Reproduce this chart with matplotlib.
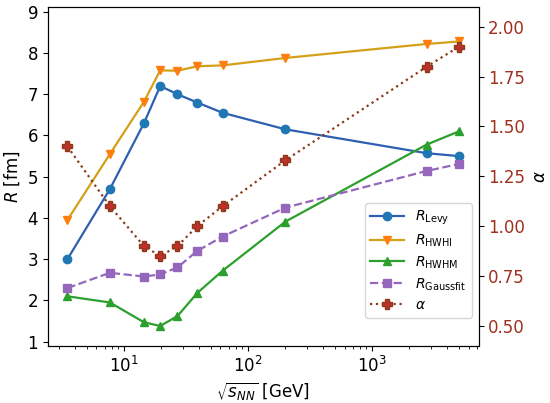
import matplotlib
matplotlib.use("Agg")
import matplotlib.pyplot as plt

plt.rcParams["font.size"] = 12

sqrt_s    = [3.5, 7.7, 14.5, 19.6, 27, 39, 62.4, 200, 2760, 5020]
r_levy    = [3.0, 4.7, 6.3, 7.2, 7.0, 6.8, 6.55, 6.15, 5.57, 5.5]
r_hwhi    = [3.95, 5.55, 6.82, 7.58, 7.57, 7.68, 7.7, 7.88, 8.22, 8.28]
r_hwhm    = [2.1, 1.95, 1.47, 1.38, 1.62, 2.18, 2.72, 3.91, 5.78, 6.1]
r_gauss   = [2.3, 2.67, 2.58, 2.63, 2.8, 3.2, 3.55, 4.25, 5.14, 5.31]
alpha     = [1.40, 1.10, 0.90, 0.85, 0.90, 1.00, 1.10, 1.33, 1.80, 1.90]

alpha_color = "#a0301e"


def main():
    fig, ax = plt.subplots(figsize=(5.5, 4.03), dpi=100)
    fig.subplots_adjust(left=0.087, right=0.87, top=0.983, bottom=0.142)

    l1, = ax.plot(sqrt_s, r_levy, "-o", color="#2f5fb0", mfc="tab:blue", mec="tab:blue",
                  ms=6, lw=1.6, label=r"$R_\mathrm{Levy}$")
    l2, = ax.plot(sqrt_s, r_hwhi, "-v", color="#d4a017", mfc="tab:orange", mec="tab:orange",
                  ms=6, lw=1.6, label=r"$R_\mathrm{HWHI}$")
    l3, = ax.plot(sqrt_s, r_hwhm, "-^", color="tab:green",
                  ms=6, lw=1.6, label=r"$R_\mathrm{HWHM}$")
    l4, = ax.plot(sqrt_s, r_gauss, "--s", color="tab:purple",
                  ms=6, lw=1.6, label=r"$R_\mathrm{Gaussfit}$")
    ax.set_xscale("log")
    ax.set_ylim(0.9, 9.12)
    ax.set_xlabel(r"$\sqrt{s_{NN}}$ [GeV]")
    ax.set_ylabel(r"$R$ [fm]")

    ax2 = ax.twinx()
    l5, = ax2.plot(sqrt_s, alpha, ":P", color="#8b3a1a", mfc="#c0302a", mec="#8b3a1a",
                   ms=7, lw=1.6, label=r"$\alpha$")
    ax2.set_ylim(0.4, 2.1)
    ax2.set_yticks([0.5, 0.75, 1.0, 1.25, 1.5, 1.75, 2.0])
    ax2.set_yticklabels(["0.50", "0.75", "1.00", "1.25", "1.50", "1.75", "2.00"])
    ax2.tick_params(axis="y", labelcolor=alpha_color)
    ax2.set_ylabel(r"$\alpha$")

    ax2.legend(handles=[l1, l2, l3, l4, l5], loc="lower right",
               bbox_to_anchor=(1, 0.062), fontsize=10, handlelength=2.4,
               labelspacing=0.4)
    fig.savefig("out.png")


if __name__ == "__main__":
    main()
